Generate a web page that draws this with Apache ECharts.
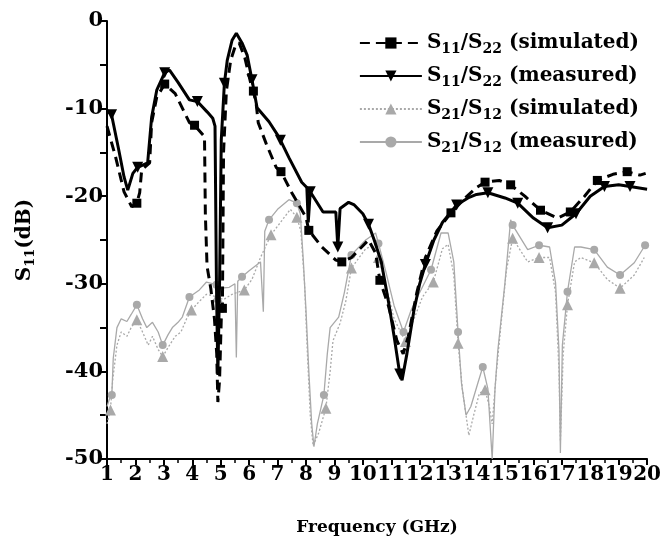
<!DOCTYPE html>
<html>
<head>
<meta charset="utf-8">
<script src="https://cdn.jsdelivr.net/npm/echarts@6/dist/echarts.min.js"></script>
<style>
html, body { margin: 0; padding: 0; background: #fff; }
#chart { width: 664px; height: 542px; }
</style>
</head>
<body>
<div id="chart"></div>
<script>
// [frequency GHz, dB]
const s11Sim = [[1.0,-12],[1.3,-15.5],[1.6,-19.5],[1.87,-21.2],[2.05,-20.8],[2.15,-19.6],[2.22,-17],[2.5,-16.2],[2.57,-11.6],[2.75,-8.7],[3.03,-7.2],[3.4,-8.3],[3.9,-11.6],[4.08,-11.9],[4.43,-13.2],[4.46,-22],[4.52,-28],[4.65,-30.5],[4.78,-34],[4.86,-38],[4.9,-43.5],[4.96,-41],[5.02,-34],[5.06,-32.8],[5.1,-15],[5.2,-8],[5.35,-4.5],[5.5,-3],[5.65,-2.5],[5.85,-4.2],[6.05,-7],[6.15,-8],[6.25,-9.5],[6.32,-11.6],[6.6,-14],[6.95,-16.7],[7.12,-17.2],[7.5,-19.6],[8.0,-22.4],[8.1,-23.9],[8.56,-25.8],[9.05,-27.3],[9.26,-27.5],[9.6,-27],[9.96,-25.8],[10.2,-25],[10.45,-26.5],[10.6,-29.6],[10.9,-32.5],[11.2,-36.5],[11.42,-38],[11.6,-36],[11.9,-31],[12.2,-27],[12.6,-24],[13.1,-21.9],[13.6,-20.2],[14.0,-19],[14.3,-18.4],[14.8,-18.2],[15.2,-18.7],[15.7,-20],[16.25,-21.6],[16.85,-22.5],[17.3,-21.8],[17.8,-20],[18.25,-18.2],[18.8,-17.5],[19.3,-17.2],[19.75,-17.6],[19.95,-17.4]];
const s11SimMarks = [2.05,3.03,4.08,5.06,6.15,7.12,8.1,9.26,10.6,13.1,14.3,15.2,16.25,17.3,18.25,19.3];

const s11Meas = [[1.0,-10.2],[1.16,-10.7],[1.4,-14.5],[1.6,-17.8],[1.73,-19.3],[1.91,-17.4],[2.08,-16.7],[2.43,-16.2],[2.5,-13.6],[2.57,-11],[2.75,-7.9],[3.03,-5.9],[3.2,-5.6],[3.5,-7],[3.9,-9],[4.18,-9.2],[4.53,-10.4],[4.72,-11.1],[4.8,-12],[4.85,-30],[4.9,-40.4],[4.96,-30],[5.02,-13.6],[5.13,-7.1],[5.23,-4.5],[5.4,-2.2],[5.55,-1.4],[5.75,-2.5],[5.93,-3.9],[6.1,-6.7],[6.28,-9.9],[6.7,-11.5],[7.0,-13],[7.1,-13.6],[7.4,-15.6],[7.85,-18.4],[8.03,-19],[8.08,-23],[8.15,-19.5],[8.6,-21.8],[9.05,-21.8],[9.12,-25.8],[9.2,-21.4],[9.5,-20.7],[9.7,-21],[10.0,-22],[10.2,-23.2],[10.4,-25],[10.65,-27.5],[10.9,-32],[11.1,-36],[11.3,-40.3],[11.38,-41],[11.55,-38],[11.8,-33],[12.0,-30],[12.2,-27.8],[12.5,-25],[12.8,-23],[13.3,-21],[13.7,-20.2],[14.0,-19.8],[14.4,-19.6],[15.0,-20.2],[15.45,-20.8],[16.0,-22.5],[16.5,-23.6],[17.0,-23.3],[17.5,-22],[18.0,-20],[18.5,-18.9],[19.0,-18.7],[19.4,-18.9],[20.0,-19.2]];
const s11MeasMarks = [1.16,2.08,3.03,4.18,5.13,6.1,7.1,8.15,9.12,10.2,11.3,12.2,13.3,14.4,15.45,16.5,17.5,18.5,19.4];

const s21Sim = [[1.0,-46],[1.12,-44.4],[1.2,-41],[1.35,-37],[1.5,-35.5],[1.7,-36],[1.85,-35],[2.05,-34.1],[2.25,-35.5],[2.45,-37],[2.6,-36],[2.8,-37.5],[2.96,-38.3],[3.2,-37],[3.4,-36],[3.6,-35.5],[3.8,-34],[3.97,-33],[4.25,-32],[4.5,-31.2],[4.88,-31.5],[5.1,-31.8],[5.4,-31.2],[5.83,-30.7],[6.1,-29.5],[6.4,-27],[6.77,-24.4],[7.1,-23],[7.45,-21.5],[7.68,-22.4],[7.82,-24],[7.95,-30],[8.05,-38],[8.15,-45],[8.25,-48.5],[8.45,-47],[8.7,-44.2],[8.85,-40],[8.95,-36.5],[9.2,-34.5],[9.4,-32],[9.6,-28.2],[10.1,-26],[10.45,-25.5],[10.55,-27],[10.8,-30],[11.1,-34],[11.5,-36.6],[11.8,-34],[12.1,-31.5],[12.48,-29.8],[12.8,-26],[13.0,-25.5],[13.2,-29],[13.35,-36.8],[13.5,-42],[13.73,-47.3],[13.9,-45],[14.1,-42.5],[14.3,-42.1],[14.45,-44],[14.55,-46],[14.7,-40],[14.85,-35],[15.05,-28.5],[15.27,-24.8],[15.8,-27.5],[16.2,-27],[16.57,-27],[16.78,-31],[16.9,-40],[16.95,-48],[17.05,-38],[17.2,-32.4],[17.45,-27.5],[17.67,-27],[18.14,-27.6],[18.6,-29.5],[19.05,-30.5],[19.55,-29],[19.9,-27]];
const s21SimMarks = [1.12,2.05,2.96,3.97,4.88,5.83,6.77,7.68,8.7,9.6,10.55,11.5,12.48,13.35,14.3,15.27,16.2,17.2,18.14,19.05];

const s21Meas = [[1.0,-44],[1.1,-43],[1.17,-42.7],[1.22,-38.5],[1.35,-35],[1.5,-34],[1.7,-34.3],[1.85,-33.5],[2.05,-32.4],[2.25,-34],[2.4,-35],[2.6,-34.4],[2.8,-35.5],[2.96,-37],[3.15,-35.8],[3.3,-35],[3.5,-34.4],[3.65,-33.8],[3.9,-31.5],[4.25,-30.7],[4.5,-29.8],[4.85,-30.1],[5.0,-30.5],[5.3,-30.4],[5.5,-30],[5.55,-38.4],[5.6,-29.7],[5.75,-29.2],[6.0,-28.5],[6.4,-27.5],[6.5,-33.2],[6.55,-24],[6.7,-22.7],[7.0,-21.5],[7.4,-20.4],[7.68,-20.8],[7.8,-22],[7.9,-27],[8.0,-33],[8.1,-40],[8.2,-45.9],[8.28,-48.6],[8.4,-46],[8.63,-42.7],[8.75,-38],[8.85,-35],[9.15,-33.8],[9.35,-31],[9.6,-26.7],[10.1,-25],[10.45,-24.2],[10.55,-25.4],[10.8,-28.5],[11.1,-32.5],[11.43,-35.5],[11.7,-33],[12.0,-31],[12.4,-28.4],[12.75,-24.2],[13.0,-24.2],[13.2,-27.5],[13.35,-35.5],[13.47,-41.3],[13.63,-45],[13.8,-44],[14.05,-41.3],[14.22,-39.5],[14.4,-42],[14.55,-50],[14.65,-42],[14.75,-37.6],[15.0,-29.9],[15.2,-22.7],[15.27,-23.3],[15.8,-26.1],[16.2,-25.6],[16.57,-25.8],[16.78,-29.9],[16.9,-37.6],[16.95,-49.3],[17.02,-37],[17.2,-30.9],[17.45,-25.8],[17.67,-25.8],[18.14,-26.1],[18.6,-28.1],[19.05,-29],[19.55,-27.6],[19.93,-25.6]];
const s21MeasMarks = [1.17,2.05,2.96,3.9,4.85,5.75,6.7,7.68,8.63,9.6,10.55,11.43,12.4,13.35,14.22,15.27,16.2,17.2,18.14,19.05,19.93];

const names = ['S11/S22 (simulated)', 'S11/S22 (measured)', 'S21/S12 (simulated)', 'S21/S12 (measured)'];
const richNames = {
  'S11/S22 (simulated)': '{s|S}{sub|11}{s|/S}{sub|22}{s| (simulated)}',
  'S11/S22 (measured)': '{s|S}{sub|11}{s|/S}{sub|22}{s| (measured)}',
  'S21/S12 (simulated)': '{s|S}{sub|21}{s|/S}{sub|12}{s| (simulated)}',
  'S21/S12 (measured)': '{s|S}{sub|21}{s|/S}{sub|12}{s| (measured)}'
};

const serif = '"DejaVu Serif", "Liberation Serif", serif';
const gray = '#a9a9a9';

function makeSeries(name, data, marks, symbol, size, color, lineType, width, z, rotate) {
  return {
    name: name,
    type: 'line',
    data: data,
    z: z,
    symbol: symbol,
    symbolRotate: rotate || 0,
    symbolSize: function (v) { return marks.indexOf(v[0]) >= 0 ? size : 0; },
    showAllSymbol: true,
    itemStyle: { color: color },
    lineStyle: { color: color, width: width, type: lineType },
    emphasis: { disabled: true },
    animation: false
  };
}

const myChart = echarts.init(document.getElementById('chart'));
myChart.setOption({
  backgroundColor: '#fff',
  grid: { left: 107, right: 14, top: 21, bottom: 83 },
  legend: {
    orient: 'vertical',
    right: 20,
    top: 28,
    itemWidth: 62,
    itemHeight: 14,
    itemGap: 10,
    data: names,
    formatter: function (n) { return richNames[n]; },
    textStyle: {
      rich: {
        s: { fontFamily: serif, fontWeight: 'bold', fontSize: 20, color: '#000', lineHeight: 26, verticalAlign: 'middle' },
        sub: { fontFamily: serif, fontWeight: 'bold', fontSize: 14, color: '#000', lineHeight: 14, verticalAlign: 'bottom' }
      }
    }
  },
  xAxis: {
    type: 'value',
    min: 1,
    max: 20,
    interval: 1,
    name: 'Frequency (GHz)',
    nameLocation: 'middle',
    nameGap: 60,
    nameTextStyle: { fontFamily: serif, fontWeight: 'bold', fontSize: 17, color: '#000' },
    axisLine: { onZero: false, lineStyle: { color: '#000', width: 2 } },
    axisTick: { length: 6, lineStyle: { color: '#000', width: 2 } },
    minorTick: { show: true, splitNumber: 2, length: 4, lineStyle: { color: '#000', width: 1.5 } },
    axisLabel: { fontFamily: serif, fontWeight: 'bold', fontSize: 20, color: '#000', margin: 6 },
    splitLine: { show: false }
  },
  yAxis: {
    type: 'value',
    min: -50,
    max: 0,
    interval: 10,
    name: '{s|S}{sub|11}{s|(dB)}',
    nameLocation: 'middle',
    nameGap: 70,
    nameTextStyle: {
      rich: {
        s: { fontFamily: serif, fontWeight: 'bold', fontSize: 20, color: '#000', lineHeight: 24, verticalAlign: 'middle' },
        sub: { fontFamily: serif, fontWeight: 'bold', fontSize: 13, color: '#000', lineHeight: 13, verticalAlign: 'bottom' }
      }
    },
    axisLine: { show: true, lineStyle: { color: '#000', width: 2 } },
    axisTick: { length: 7, lineStyle: { color: '#000', width: 2 } },
    minorTick: { show: true, splitNumber: 2, length: 7, lineStyle: { color: '#000', width: 2 } },
    axisLabel: { fontFamily: serif, fontWeight: 'bold', fontSize: 21, color: '#000', margin: 4 },
    splitLine: { show: false }
  },
  series: [
    makeSeries(names[0], s11Sim, s11SimMarks, 'rect', 9, '#000', [10, 6], 3, 5),
    makeSeries(names[1], s11Meas, s11MeasMarks, 'triangle', 11, '#000', 'solid', 3, 6, 180),
    makeSeries(names[2], s21Sim, s21SimMarks, 'triangle', 11, gray, [2, 2], 1.3, 3),
    makeSeries(names[3], s21Meas, s21MeasMarks, 'circle', 8, gray, 'solid', 1.3, 4)
  ]
});
</script>
</body>
</html>
